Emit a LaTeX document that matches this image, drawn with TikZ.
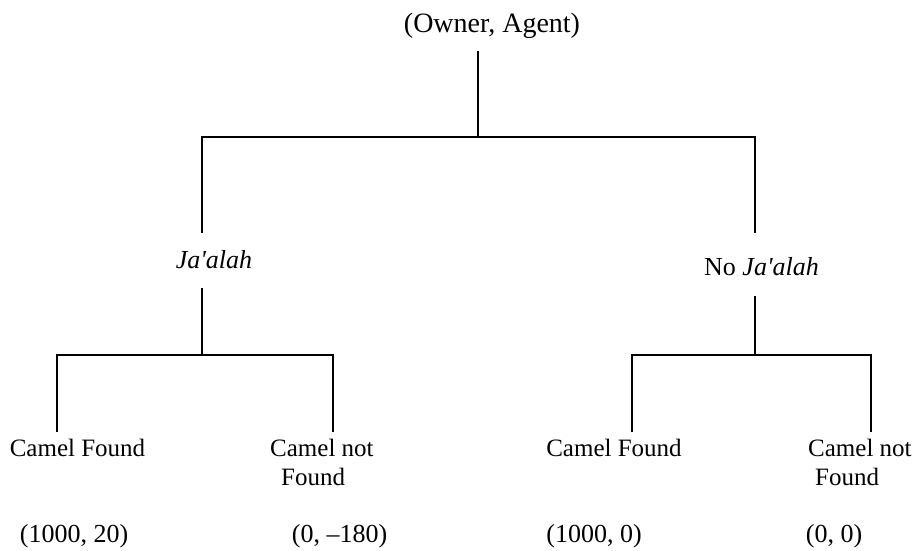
\documentclass[tikz,border=0pt]{standalone}
\usepackage{fontspec}
\setmainfont{Liberation Serif}
\begin{document}
\begin{tikzpicture}[x=1pt,y=-1pt,
  ttl/.style={font=\fontsize{28}{32}\selectfont, inner sep=0pt, anchor=base},
  mid/.style={font=\fontsize{26}{30}\selectfont, inner sep=0pt, anchor=base},
  leaf/.style={font=\fontsize{25}{29}\selectfont, inner sep=0pt, anchor=north},
  leaftwo/.style={font=\fontsize{25}{29}\selectfont, inner sep=0pt, anchor=north west, align=left},
  pay/.style={font=\fontsize{26}{30}\selectfont, inner sep=0pt, anchor=base},
  br/.style={line width=2pt, line join=miter}]
\useasboundingbox (0,0) rectangle (917,550);
% nodes
\node[ttl] (root) at (492,32) {(Owner, Agent)};
\node[mid] (ja) at (214,268) {\textit{Ja\textquotesingle alah}};
\node[mid] (nja) at (761.5,275) {No \textit{Ja\textquotesingle alah}};
\node[leaf] (lcf) at (77.5,439) {Camel Found};
\node[leaftwo] (lnf) at (270,439) {Camel not\\\hspace*{11pt}Found};
\node[leaf] (rcf) at (614,439) {Camel Found};
\node[leaftwo] (rnf) at (808,439) {Camel not\\\hspace*{7pt}Found};
\node[pay] (p1) at (74,542) {(1000, 20)};
\node[pay] (p2) at (339.5,542) {(0, –180)};
\node[pay] (p3) at (594,542) {(1000, 0)};
\node[pay] (p4) at (834,542) {(0, 0)};
% junctions
\coordinate (j0) at (478,137);
\coordinate (jL) at (201.5,137);
\coordinate (jR) at (755,137);
\coordinate (mL) at (201.5,355);
\coordinate (mR) at (755,355);
\coordinate (aL) at (57,355);
\coordinate (bL) at (333,355);
\coordinate (aR) at (632,355);
\coordinate (bR) at (871,355);
% connectors
\draw[br] ([yshift=-13pt]root.south -| j0) -- (j0);
\draw[br] ([yshift=17pt]ja.north -| jL) -- (jL) -- (jR) -- ([yshift=24pt]nja.north -| jR);
\draw[br] ([yshift=-20pt]ja.south -| mL) -- (mL);
\draw[br] ([yshift=-21pt]nja.south -| mR) -- (mR);
\draw[br] ([yshift=7pt]lcf.north -| aL) -- (aL) -- (bL) -- ([yshift=7pt]lnf.north -| bL);
\draw[br] ([yshift=7pt]rcf.north -| aR) -- (aR) -- (bR) -- ([yshift=7pt]rnf.north -| bR);
\end{tikzpicture}
\end{document}
